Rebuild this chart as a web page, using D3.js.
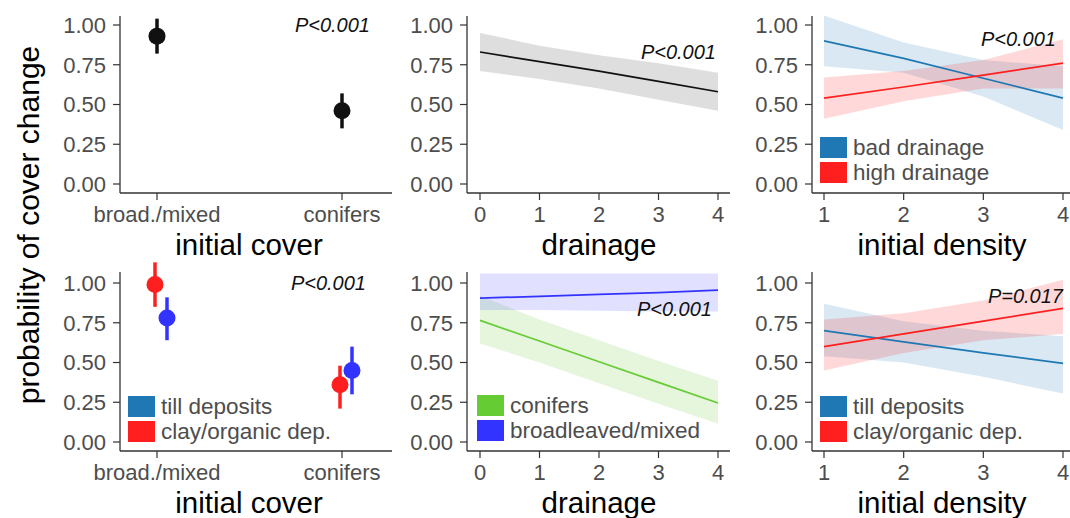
<!DOCTYPE html>
<html><head><meta charset="utf-8">
<script src="https://cdn.jsdelivr.net/npm/d3@7"></script>
<style>body{margin:0;background:#fff}svg{display:block;font-family:"Liberation Sans",Arial,sans-serif}</style>
</head><body><svg id="c" width="1070" height="518"></svg>
<script>
// ---- data ----
const coverCats = ["broad./mixed", "conifers"];
const yTicks = [0, 0.25, 0.5, 0.75, 1];
const drainTicks = [0, 1, 2, 3, 4];
const densTicks = [1, 2, 3, 4];

// panel 1: initial cover
const p1Fit = [0.93, 0.46];
const p1Lo = [0.82, 0.35];
const p1Hi = [1.04, 0.57];

// panel 2: drainage
const p2X = [0, 1, 2, 3, 4];
const p2Fit = [0.83, 0.77, 0.71, 0.645, 0.58];
const p2Lo = [0.71, 0.66, 0.60, 0.53, 0.46];
const p2Hi = [0.95, 0.87, 0.81, 0.76, 0.70];

// panel 3: initial density x drainage
const p3X = [1, 2, 3, 4];
const p3BadFit = [0.90, 0.79, 0.665, 0.54];
const p3BadLo = [0.74, 0.70, 0.55, 0.34];
const p3BadHi = [1.06, 0.89, 0.78, 0.74];
const p3HighFit = [0.54, 0.61, 0.685, 0.76];
const p3HighLo = [0.41, 0.52, 0.60, 0.60];
const p3HighHi = [0.67, 0.71, 0.78, 0.91];

// panel 4: initial cover x deposits
const p4TillFit = [0.78, 0.45];
const p4TillLo = [0.64, 0.30];
const p4TillHi = [0.91, 0.60];
const p4ClayFit = [0.99, 0.36];
const p4ClayLo = [0.85, 0.21];
const p4ClayHi = [1.13, 0.48];

// panel 5: drainage x cover
const p5X = [0, 1, 2, 3, 4];
const p5BroadFit = [0.905, 0.916, 0.928, 0.94, 0.955];
const p5BroadLo = [0.83, 0.83, 0.825, 0.82, 0.82];
const p5BroadHi = [1.06, 1.06, 1.06, 1.06, 1.06];
const p5ConFit = [0.765, 0.635, 0.505, 0.375, 0.245];
const p5ConLo = [0.62, 0.50, 0.37, 0.24, 0.115];
const p5ConHi = [0.92, 0.77, 0.64, 0.51, 0.385];

// panel 6: initial density x deposits
const p6X = [1, 2, 3, 4];
const p6TillFit = [0.70, 0.63, 0.56, 0.495];
const p6TillLo = [0.54, 0.50, 0.41, 0.305];
const p6TillHi = [0.87, 0.76, 0.70, 0.665];
const p6ClayFit = [0.60, 0.68, 0.76, 0.84];
const p6ClayLo = [0.45, 0.56, 0.64, 0.68];
const p6ClayHi = [0.77, 0.81, 0.89, 1.02];

const pLabels = ["P<0.001", "P<0.001", "P<0.001", "P<0.001", "P<0.001", "P=0.017"];

// ---- drawing ----
const svg = d3.select("#c");
const AX = "#333", TK = "#4d4d4d";
const C = {steel: "#1f78b4", red: "#ff1f1f", blue: "#3333ff", green: "#66cc33"};

const rows = [{zero: 184, one: 25, top: 16, base: 193, tickY: 222, titleY: 255},
              {zero: 442, one: 283, top: 272, base: 451, tickY: 480, titleY: 513}];
const cols = [{ax: 120, end: 392}, {ax: 467, end: 730}, {ax: 812, end: 1070}];

function yScale(r) { return d3.scaleLinear().domain([0, 1]).range([r.zero, r.one]); }

function frame(r, c, xs, ticks, title, titleX) {
  const g = svg.append("g");
  const y = yScale(r);
  g.append("line").attr("x1", c.ax).attr("x2", c.ax).attr("y1", r.top).attr("y2", r.base).attr("stroke", AX).attr("stroke-width", 1.3);
  g.append("line").attr("x1", c.ax).attr("x2", c.end).attr("y1", r.base).attr("y2", r.base).attr("stroke", AX).attr("stroke-width", 1.3);
  yTicks.forEach(t => {
    g.append("line").attr("x1", c.ax - 7).attr("x2", c.ax).attr("y1", y(t)).attr("y2", y(t)).attr("stroke", AX).attr("stroke-width", 1.2);
    g.append("text").attr("x", c.ax - 14).attr("y", y(t)).attr("dy", "0.36em").attr("text-anchor", "end")
      .attr("font-size", 22).attr("fill", TK).text(d3.format(".2f")(t));
  });
  ticks.forEach(t => {
    g.append("line").attr("x1", xs(t)).attr("x2", xs(t)).attr("y1", r.base).attr("y2", r.base + 7).attr("stroke", AX).attr("stroke-width", 1.2);
    g.append("text").attr("x", xs(t)).attr("y", r.tickY).attr("text-anchor", "middle")
      .attr("font-size", 22).attr("fill", TK).text(t);
  });
  g.append("text").attr("x", titleX).attr("y", r.titleY).attr("text-anchor", "middle").attr("font-size", 29.5).attr("fill", "#000").text(title);
  return {g, y};
}

function band(g, xs, y, X, lo, hi, fill, op) {
  const data = X.map((x, i) => ({x, lo: lo[i], hi: hi[i]}));
  g.append("path").datum(data).attr("fill", fill).attr("fill-opacity", op)
    .attr("d", d3.area().x(d => xs(d.x)).y0(d => y(d.lo)).y1(d => y(d.hi)));
}
function line(g, xs, y, X, v, col, w) {
  const data = X.map((x, i) => ({x, v: v[i]}));
  g.append("path").datum(data).attr("fill", "none").attr("stroke", col).attr("stroke-width", w || 1.7)
    .attr("d", d3.line().x(d => xs(d.x)).y(d => y(d.v)));
}
function pt(g, x, y, fit, lo, hi, col) {
  g.append("line").attr("x1", x).attr("x2", x).attr("y1", y(lo)).attr("y2", y(hi)).attr("stroke", col).attr("stroke-width", 3.5);
  g.append("circle").attr("cx", x).attr("cy", y(fit)).attr("r", 8.5).attr("fill", col);
}
function pText(g, x, yy, t) {
  g.append("text").attr("x", x).attr("y", yy).attr("text-anchor", "end").attr("font-size", 20).attr("font-style", "italic").attr("fill", "#111").text(t);
}
function legend(g, x, y0, items) {
  items.forEach((it, i) => {
    const yy = y0 + i * 25;
    g.append("rect").attr("x", x).attr("y", yy).attr("width", 27).attr("height", 21).attr("fill", it.col);
    g.append("text").attr("x", x + 33).attr("y", yy + 18).attr("font-size", 22.5).attr("fill", TK).text(it.label);
  });
}

// Panel 1
{
  const xs = d3.scalePoint().domain(coverCats).range([157, 342]);
  const {g, y} = frame(rows[0], cols[0], xs, coverCats, "initial cover", 249);
  coverCats.forEach((c, i) => pt(g, xs(c), y, p1Fit[i], p1Lo[i], p1Hi[i], "#111"));
  pText(g, 370, 32, pLabels[0]);
}
// Panel 2
{
  const xs = d3.scaleLinear().domain([0, 4]).range([480, 718]);
  const {g, y} = frame(rows[0], cols[1], xs, drainTicks, "drainage", 599);
  band(g, xs, y, p2X, p2Lo, p2Hi, "#bdbdbd", 0.5);
  line(g, xs, y, p2X, p2Fit, "#111", 1.7);
  pText(g, 716, 59, pLabels[1]);
}
// Panel 3
{
  const xs = d3.scaleLinear().domain([1, 4]).range([824, 1063]);
  const {g, y} = frame(rows[0], cols[2], xs, densTicks, "initial density", 942);
  band(g, xs, y, p3X, p3BadLo, p3BadHi, C.steel, 0.17);
  band(g, xs, y, p3X, p3HighLo, p3HighHi, C.red, 0.17);
  line(g, xs, y, p3X, p3BadFit, C.steel);
  line(g, xs, y, p3X, p3HighFit, C.red);
  pText(g, 1056, 46, pLabels[2]);
  legend(g, 820, 137, [{col: C.steel, label: "bad drainage"}, {col: C.red, label: "high drainage"}]);
}
// Panel 4
{
  const xs = d3.scalePoint().domain(coverCats).range([157, 342]);
  const {g, y} = frame(rows[1], cols[0], xs, coverCats, "initial cover", 249);
  coverCats.forEach((c, i) => {
    pt(g, xs(c) - 2, y, p4ClayFit[i], p4ClayLo[i], p4ClayHi[i], C.red);
    pt(g, xs(c) + 10, y, p4TillFit[i], p4TillLo[i], p4TillHi[i], C.blue);
  });
  pText(g, 366, 290, pLabels[3]);
  legend(g, 128, 396, [{col: C.steel, label: "till deposits"}, {col: C.red, label: "clay/organic dep."}]);
}
// Panel 5
{
  const xs = d3.scaleLinear().domain([0, 4]).range([480, 718]);
  const {g, y} = frame(rows[1], cols[1], xs, drainTicks, "drainage", 599);
  band(g, xs, y, p5X, p5ConLo, p5ConHi, C.green, 0.17);
  band(g, xs, y, p5X, p5BroadLo, p5BroadHi, C.blue, 0.15);
  line(g, xs, y, p5X, p5ConFit, C.green);
  line(g, xs, y, p5X, p5BroadFit, C.blue);
  pText(g, 712, 316, pLabels[4]);
  legend(g, 477, 395, [{col: C.green, label: "conifers"}, {col: C.blue, label: "broadleaved/mixed"}]);
}
// Panel 6
{
  const xs = d3.scaleLinear().domain([1, 4]).range([824, 1063]);
  const {g, y} = frame(rows[1], cols[2], xs, densTicks, "initial density", 942);
  band(g, xs, y, p6X, p6TillLo, p6TillHi, C.steel, 0.17);
  band(g, xs, y, p6X, p6ClayLo, p6ClayHi, C.red, 0.17);
  line(g, xs, y, p6X, p6TillFit, C.steel);
  line(g, xs, y, p6X, p6ClayFit, C.red);
  pText(g, 1063, 303, pLabels[5]);
  legend(g, 820, 396, [{col: C.steel, label: "till deposits"}, {col: C.red, label: "clay/organic dep."}]);
}
// shared y title
svg.append("text").attr("transform", "translate(39,225) rotate(-90)").attr("text-anchor", "middle")
  .attr("font-size", 30).attr("fill", "#000").text("probability of cover change");
</script></body></html>
